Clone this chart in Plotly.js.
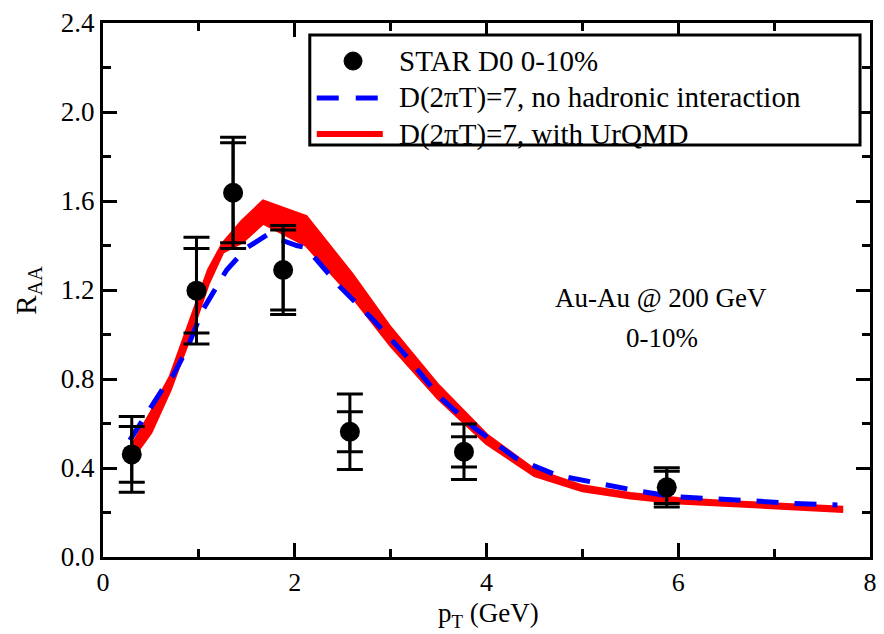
<!DOCTYPE html>
<html>
<head>
<meta charset="utf-8">
<script src="https://cdn.plot.ly/plotly-3.0.1.min.js"></script>
<style>
  html, body { margin: 0; padding: 0; background: #fff; }
  #chart { width: 884px; height: 634px; }
</style>
</head>
<body>
<div id="chart"></div>
<script>
// ---- Data ----
// STAR D0 0-10% points
var starX = [0.30, 0.975, 1.357, 1.879, 2.575, 3.765, 5.88];
var starY = [0.461, 1.197, 1.637, 1.290, 0.563, 0.473, 0.313];
var starErrOuter = [0.17, 0.24, 0.25, 0.20, 0.17, 0.125, 0.088];
var starErrInner = [0.125, 0.19, 0.225, 0.18, 0.09, 0.068, 0.072];

// D(2piT)=7, with UrQMD (band)
var redX     = [0.30, 0.50, 0.70, 0.90, 1.10, 1.25, 1.45, 1.67, 2.12, 2.60, 3.00, 3.50, 4.00, 4.50, 5.00, 5.50, 6.00, 6.50, 7.00, 7.72];
var redUpper = [0.50, 0.65, 0.81, 1.05, 1.29, 1.41, 1.51, 1.60, 1.53, 1.27, 1.03, 0.77, 0.55, 0.392, 0.320, 0.285, 0.263, 0.250, 0.240, 0.224];
var redLower = [0.44, 0.56, 0.75, 0.98, 1.23, 1.37, 1.415, 1.50, 1.40, 1.17, 0.95, 0.71, 0.51, 0.366, 0.298, 0.265, 0.243, 0.232, 0.220, 0.205];

// D(2piT)=7, no hadronic interaction
var blueX = [0.28, 0.45, 0.63, 0.73, 0.87, 1.04, 1.29, 1.50, 1.71, 2.02, 2.12, 2.47, 2.82, 3.17, 3.51, 3.86, 4.31, 4.73, 5.15, 5.53, 5.95, 6.37, 6.79, 7.20, 7.66];
var blueY = [0.525, 0.64, 0.76, 0.815, 0.93, 1.11, 1.29, 1.39, 1.447, 1.40, 1.39, 1.215, 1.065, 0.90, 0.72, 0.585, 0.443, 0.368, 0.331, 0.301, 0.271, 0.259, 0.252, 0.241, 0.234];

var legendLabels = ["STAR D0 0-10%", "D(2\u03C0T)=7, no hadronic interaction", "D(2\u03C0T)=7, with UrQMD"];
var noteLines = ["Au-Au @ 200 GeV", "0-10%"];
var xTitle = "p<sub>T</sub> (GeV)";
var yTitle = "R<sub>AA</sub>";

var xTickVals = [0, 2, 4, 6, 8];
var yTickVals = [0.0, 0.4, 0.8, 1.2, 1.6, 2.0, 2.4];

// ---- Styles ----
var FONT = '"Liberation Serif", "Times New Roman", serif';
var RED = "#ff0000";
var BLUE = "#0000ff";

var traces = [
  { x: redX, y: redLower, mode: "lines", line: { color: RED, width: 3 }, showlegend: false, hoverinfo: "skip" },
  { x: redX, y: redUpper, mode: "lines", fill: "tonexty", fillcolor: RED, line: { color: RED, width: 3 }, showlegend: false, name: legendLabels[2] },
  { x: blueX, y: blueY, mode: "lines", line: { color: BLUE, width: 5, dash: "22px,16px" }, showlegend: false, name: legendLabels[1] },
  { x: starX, y: starY, mode: "markers", marker: { size: 0.1, color: "rgba(0,0,0,0)" },
    error_y: { type: "data", array: starErrInner, visible: true, color: "#000", thickness: 3, width: 13 }, showlegend: false, hoverinfo: "skip" },
  { x: starX, y: starY, mode: "markers", marker: { size: 20, color: "#000" },
    error_y: { type: "data", array: starErrOuter, visible: true, color: "#000", thickness: 3, width: 13 }, showlegend: false, name: legendLabels[0] }
];

// legend geometry (paper coordinates)
var lgX0 = 0.2696, lgX1 = 0.987, lgY0 = 0.7715, lgY1 = 0.9775;
var rowY = [0.9288, 0.8596, 0.7921];
var symX0 = 0.2787, symX1 = 0.3648, symXc = 0.326, txtX = 0.383;

var shapes = [
  { type: "rect", xref: "paper", yref: "paper", x0: lgX0, x1: lgX1, y0: lgY0, y1: lgY1, line: { color: "#000", width: 3 }, fillcolor: "#fff", layer: "above" },
  { type: "circle", xref: "paper", yref: "paper", xsizemode: "pixel", ysizemode: "pixel", xanchor: symXc, yanchor: rowY[0], x0: -9, x1: 9, y0: -9, y1: 9, fillcolor: "#000", line: { color: "#000", width: 1 } },
  { type: "line", xref: "paper", yref: "paper", x0: symX0, x1: symX1, y0: rowY[1], y1: rowY[1], line: { color: BLUE, width: 5, dash: "22px,17px" } },
  { type: "line", xref: "paper", yref: "paper", x0: symX0, x1: symX1, y0: rowY[2], y1: rowY[2], line: { color: RED, width: 6 } }
];

var annotations = legendLabels.map(function (t, i) {
  return { xref: "paper", yref: "paper", x: txtX, y: rowY[i], xanchor: "left", yanchor: "middle", text: t, showarrow: false, font: { family: FONT, size: 29, color: "#000" } };
});
annotations.push({ xref: "x", yref: "y", x: 5.82, y: 1.164, text: noteLines[0], showarrow: false, xanchor: "center", yanchor: "middle", font: { family: FONT, size: 27, color: "#000" } });
annotations.push({ xref: "x", yref: "y", x: 5.83, y: 0.984, text: noteLines[1], showarrow: false, xanchor: "center", yanchor: "middle", font: { family: FONT, size: 27, color: "#000" } });
// axis titles
annotations.push({ xref: "paper", yref: "paper", x: 0.502, y: -0.0755, text: xTitle, showarrow: false, xanchor: "center", yanchor: "top", borderpad: 0, font: { family: FONT, size: 27, color: "#000" } });
annotations.push({ xref: "paper", yref: "paper", x: -0.098, y: 0.5, text: yTitle, textangle: -90, showarrow: false, xanchor: "center", yanchor: "middle", font: { family: FONT, size: 29, color: "#000" } });

var axisCommon = {
  showgrid: false, zeroline: false, showline: true, linecolor: "#000", linewidth: 3,
  mirror: "ticks", ticks: "inside", ticklen: 14, tickwidth: 3, tickcolor: "#000",
  tickfont: { family: FONT, size: 27, color: "#000" }
};

var layout = {
  width: 884, height: 634,
  margin: { l: 103, r: 14, t: 23, b: 77 },
  paper_bgcolor: "#fff", plot_bgcolor: "#fff",
  font: { family: FONT, color: "#000" },
  showlegend: false,
  xaxis: Object.assign({}, axisCommon, {
    range: [0, 8], tickvals: xTickVals, ticktext: xTickVals.map(String),
    tickfont: { family: FONT, size: 26, color: "#000" },
    minor: { dtick: 1, tick0: 0, ticks: "inside", ticklen: 8, tickwidth: 3, tickcolor: "#000" }
  }),
  yaxis: Object.assign({}, axisCommon, {
    range: [0, 2.4], tickvals: yTickVals, ticktext: yTickVals.map(function (v) { return v.toFixed(1); }),
    minor: { dtick: 0.2, tick0: 0, ticks: "inside", ticklen: 8, tickwidth: 3, tickcolor: "#000" }
  }),
  shapes: shapes,
  annotations: annotations
};

Plotly.newPlot("chart", traces, layout, { staticPlot: true, displayModeBar: false });
</script>
</body>
</html>
